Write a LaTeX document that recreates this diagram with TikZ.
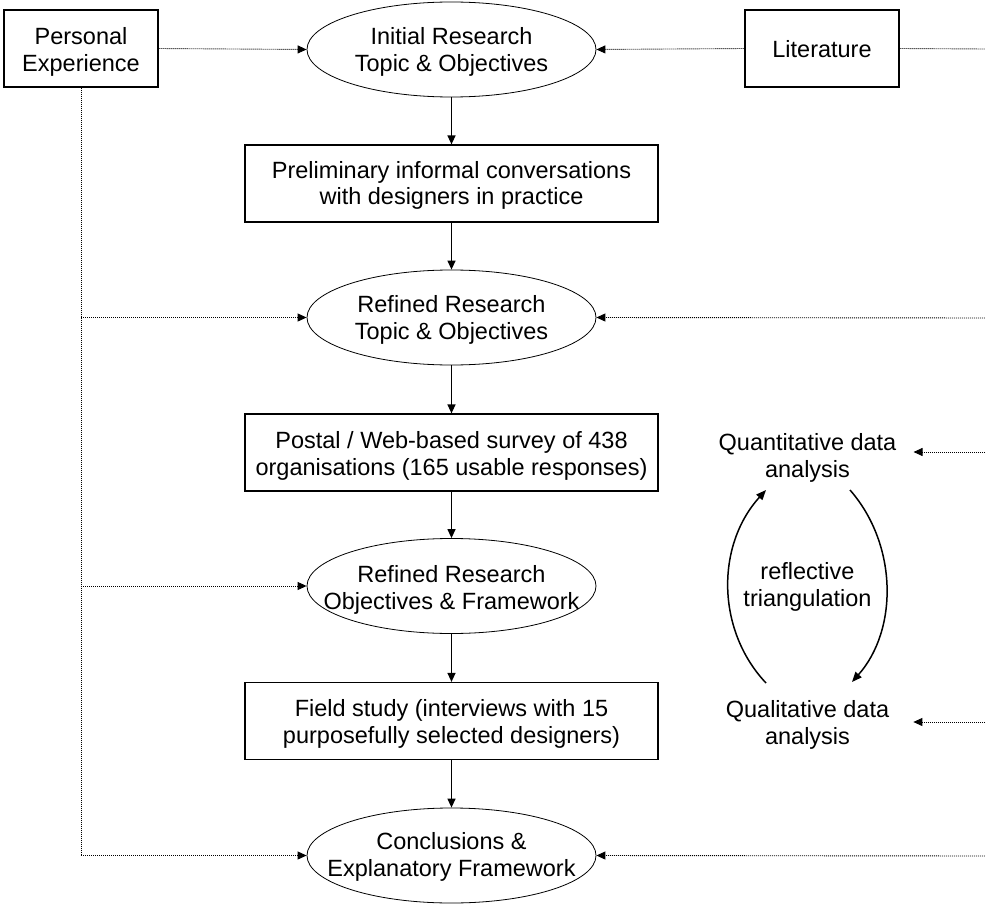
\documentclass[tikz,border=0pt]{standalone}
\usepackage{fontspec}
\setmainfont{Liberation Sans}
\usetikzlibrary{arrows.meta,shapes.geometric}
\newcommand{\zlines}[2][5pt]{\makebox[0pt][c]{\smash{\raisebox{#1}{\begin{tabular}[t]{@{}c@{}}#2\end{tabular}}}}}
\begin{document}
\begin{tikzpicture}[x=1pt,y=-1pt,
  every node/.style={font=\fontsize{23.5}{27}\selectfont},
  boxnode/.style={draw, line width=1.2pt, rectangle, inner sep=0pt, minimum width=413pt, minimum height=77pt},
  smallbox/.style={boxnode, minimum width=154pt},
  ell/.style={draw, line width=0.8pt, ellipse, inner sep=0pt, minimum width=289pt, minimum height=95pt},
  txt/.style={inner ysep=0pt, align=center},
  flow/.style={line width=1.3pt, -{Triangle[length=9pt,width=8pt]}},
  dotline/.style={line width=0.9pt, dash pattern=on 1pt off 1pt},
  dotarrow/.style={dotline, -{Triangle[length=9pt,width=8pt]}},
  curvearrow/.style={line width=1.5pt, -{Triangle[length=10pt,width=8pt]}}
]
\useasboundingbox (0,0) rectangle (985,904);

\node[smallbox] (pe) at (81,48.5) {\zlines[3.5pt]{Personal\\Experience}};
\node[smallbox] (lit) at (822,48.5) {\zlines[-9.5pt]{Literature}};
\node[ell] (init) at (451.5,49.5) {\zlines[4.5pt]{Initial Research\\Topic \& Objectives}};
\node[boxnode] (prel) at (451.5,183.5) {\zlines[5.5pt]{Preliminary informal conversations\\with designers in practice}};
\node[ell] (ref1) at (451.5,317.5) {\zlines[5.5pt]{Refined Research\\Topic \& Objectives}};
\node[boxnode] (post) at (451.5,452.5) {\zlines[4.5pt]{Postal / Web-based survey of 438\\organisations (165 usable responses)}};
\node[ell] (ref2) at (451.5,586) {\zlines[4pt]{Refined Research\\Objectives \& Framework}};
\node[boxnode] (field) at (451.5,721) {\zlines[5pt]{Field study (interviews with 15\\purposefully selected designers)}};
\node[ell] (conc) at (451.5,855.5) {\zlines[6pt]{Conclusions \&\\Explanatory Framework}};

\node[txt, inner xsep=17pt] (quant) at (807.5,458) {Quantitative data\\analysis};
\node[txt, inner xsep=24pt] (qual) at (807.5,725) {Qualitative data\\analysis};
\node[txt] (refl) at (807.5,587) {reflective\\triangulation};

% main flow
\draw[flow] (init) -- (prel);
\draw[flow] (prel) -- (ref1);
\draw[flow] (ref1) -- (post);
\draw[flow] (post) -- (ref2);
\draw[flow] (ref2) -- (field);
\draw[flow] (field) -- (conc);

% top inputs
\draw[dotarrow] (pe.east) -- (init.west);
\draw[dotarrow] (lit.west) -- (init.east);
\coordinate (r0) at (985,49);
\draw[dotline] (lit.east) -- (r0);

% left feedback
\draw[dotline] (pe.south) -- (pe.south |- conc.west);
\draw[dotarrow] (pe.south |- ref1.west) -- (ref1.west);
\draw[dotarrow] (pe.south |- ref2.west) -- (ref2.west);
\draw[dotarrow] (pe.south |- conc.west) -- (conc.west);

% right inputs
\coordinate (r1) at (985,318);
\coordinate (rq) at (985,452);
\coordinate (rl) at (985,722);
\coordinate (r4) at (985,856);
\draw[dotarrow] (r1) -- (ref1.east);
\draw[dotarrow] (rq) -- (rq -| quant.east);
\draw[dotarrow] (rl) -- (rl -| qual.east);
\draw[dotarrow] (r4) -- (conc.east);

% reflective triangulation loop
\coordinate (la) at (766,683);
\coordinate (lb) at (766,490);
\coordinate (ra) at (850,490);
\coordinate (rb) at (852,682);
\draw[curvearrow] (la) .. controls (716,630) and (716,545) .. (lb);
\draw[curvearrow] (ra) .. controls (898,545) and (898,630) .. (rb);
\end{tikzpicture}
\end{document}
